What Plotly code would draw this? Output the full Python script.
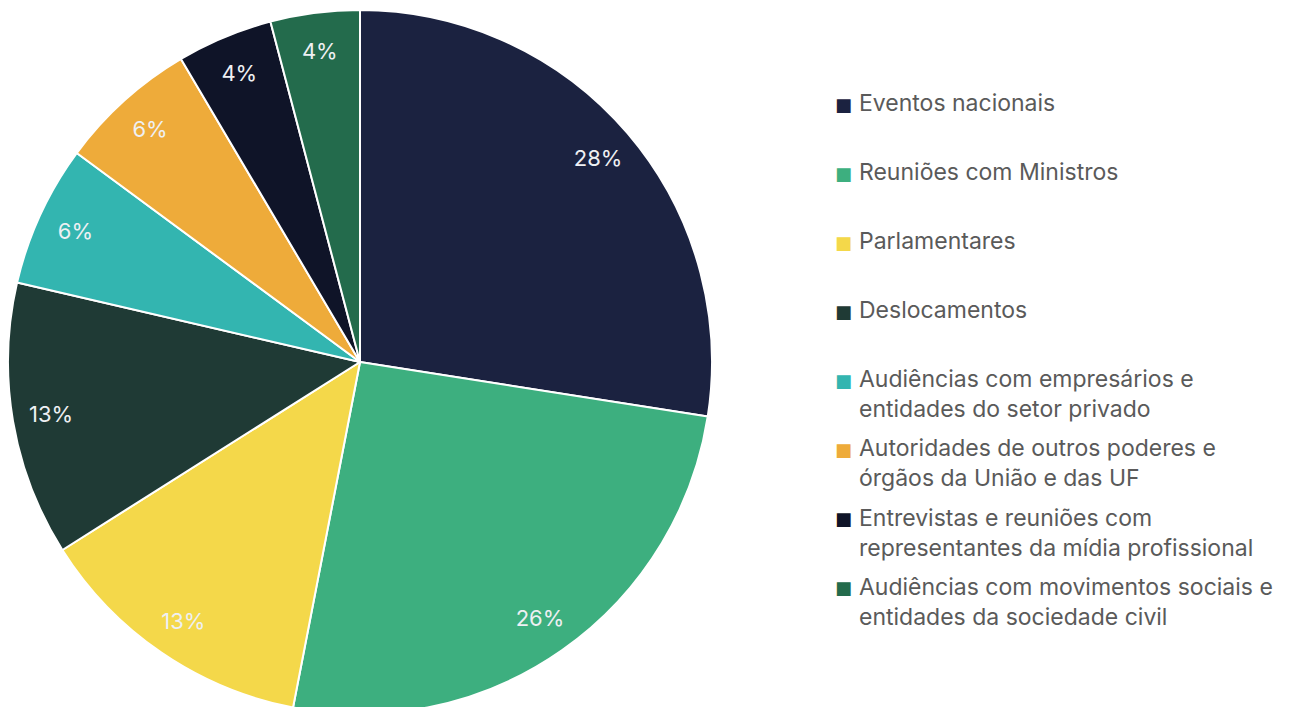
import plotly.graph_objects as go

categories = [
    "Eventos nacionais",
    "Reuniões com Ministros",
    "Parlamentares",
    "Deslocamentos",
    "Audiências com empresários e<br>entidades do setor privado",
    "Autoridades de outros poderes e<br>órgãos da União e das UF",
    "Entrevistas e reuniões com<br>representantes da mídia profissional",
    "Audiências com movimentos sociais e<br>entidades da sociedade civil",
]
values = [27.5, 25.6, 13.0, 12.6, 6.5, 6.4, 4.4, 4.1]
value_labels = ["28%", "26%", "13%", "13%", "6%", "6%", "4%", "4%"]
colors = ["#1b2240", "#3daf7f", "#f4d84a", "#1f3a35", "#33b5b0", "#eeab3a", "#0f1428", "#236b4c"]

W, H = 1298, 707
MT, MB = 2, 1
PH = H - MT - MB
PAGE_OFF = 8  # default body margin of the html page

domain = dict(x=[0, PH / W], y=[0, 1])

fig = go.Figure()
fig.add_trace(go.Pie(
    labels=categories,
    values=values,
    sort=False,
    direction="clockwise",
    rotation=0,
    marker=dict(colors=colors, line=dict(color="white", width=2)),
    textinfo="none",
    domain=domain,
    showlegend=False,
    hoverinfo="label+percent",
))
fig.add_trace(go.Pie(
    labels=categories,
    values=values,
    sort=False,
    direction="clockwise",
    rotation=0,
    hole=0.78,
    marker=dict(colors=["rgba(0,0,0,0)"] * len(values), line=dict(width=0)),
    text=value_labels,
    textinfo="text",
    textposition="inside",
    insidetextorientation="horizontal",
    insidetextfont=dict(color="#eef0f3", size=22, family="Inter"),
    showlegend=False,
    hoverinfo="skip",
    domain=domain,
))


def to_paper_y(page_y):
    return 1 - (page_y - PAGE_OFF - MT) / PH


FONT = 23
LINE_H = 1.3 * FONT
first_center = 103
step = 69.1
annotations = []
for i, (name, col) in enumerate(zip(categories, colors)):
    cy = first_center + step * i
    nlines = name.count("<br>") + 1
    annotations.append(dict(
        x=(844 - PAGE_OFF) / W, y=to_paper_y(cy + 1),
        xref="paper", yref="paper", xanchor="center", yanchor="middle",
        text="■", showarrow=False,
        font=dict(family="DejaVu Sans", size=18, color=col),
    ))
    annotations.append(dict(
        x=(857 - PAGE_OFF) / W, y=to_paper_y(cy + (nlines - 1) * LINE_H / 2),
        xref="paper", yref="paper", xanchor="left", yanchor="middle",
        align="left", text=name, showarrow=False,
        font=dict(family="Inter", size=FONT, color="#5a5a5a"),
    ))

fig.update_layout(
    width=W,
    height=H,
    margin=dict(l=0, r=0, t=MT, b=MB),
    paper_bgcolor="white",
    plot_bgcolor="white",
    showlegend=False,
    annotations=annotations,
)

fig.write_html("out.html")
